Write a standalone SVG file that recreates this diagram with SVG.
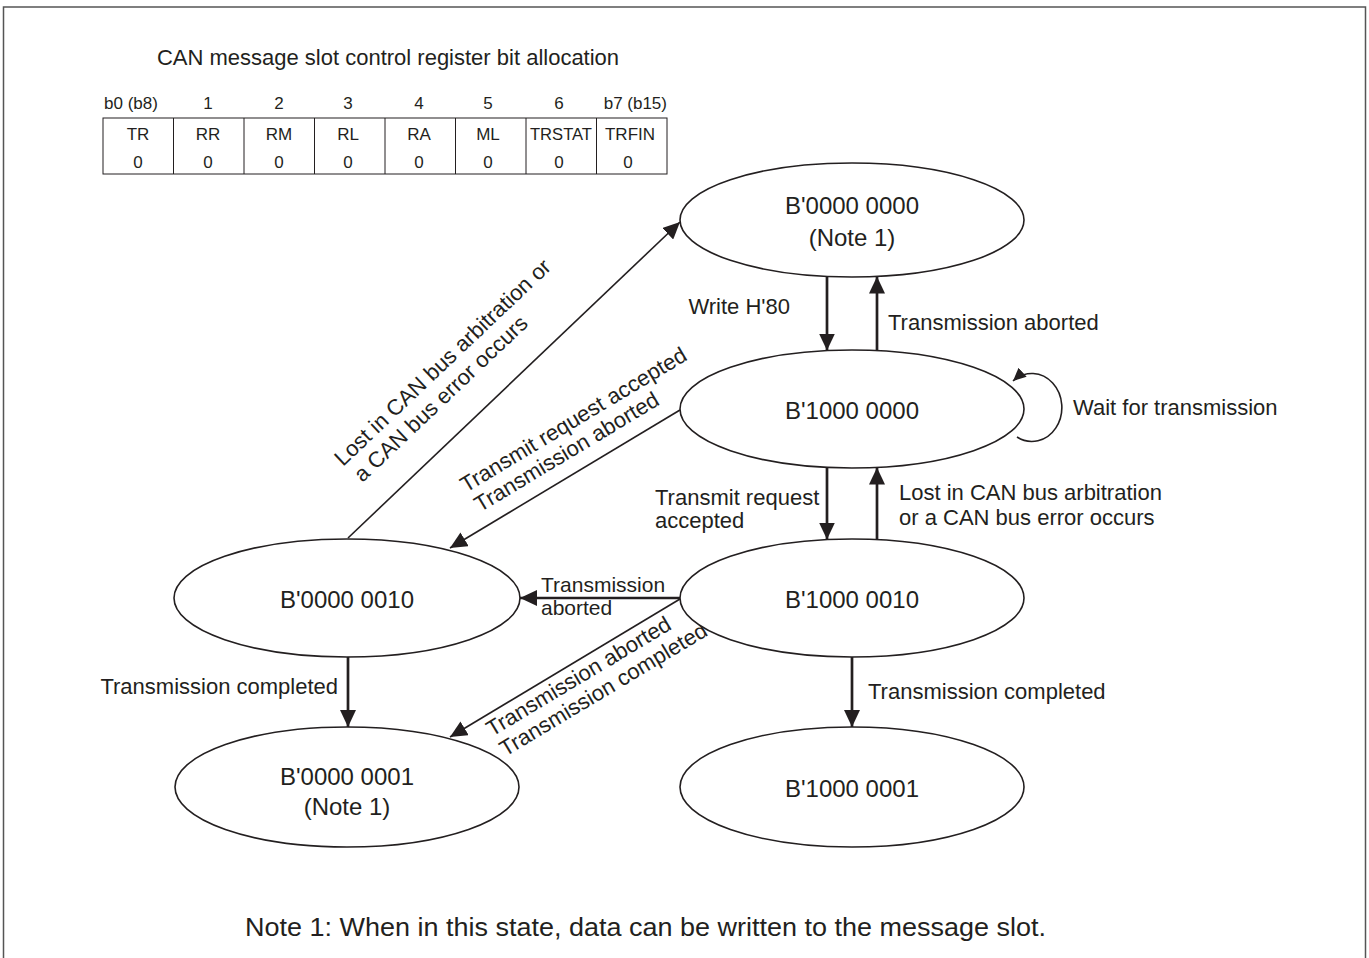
<svg xmlns="http://www.w3.org/2000/svg" width="1369" height="958" viewBox="0 0 1369 958">
<style>
text{font-family:"Liberation Sans",Arial,sans-serif;fill:#231f20}
.st{font-size:24px;text-anchor:middle}
.lb{font-size:22px}
.tb{font-size:17px;text-anchor:middle}
.node ellipse{fill:#fff;stroke:#231f20;stroke-width:1.6}
.thick{stroke:#231f20;stroke-width:2.7;fill:none}
.thin{stroke:#231f20;stroke-width:1.6;fill:none}
</style>
<defs>
<marker id="ah" markerUnits="userSpaceOnUse" markerWidth="18" markerHeight="16" refX="17" refY="8" orient="auto">
<path d="M0,0 L17,8 L0,16 z" fill="#231f20"/>
</marker>
<marker id="ahs" markerUnits="userSpaceOnUse" markerWidth="14" markerHeight="12" refX="13" refY="6" orient="auto">
<path d="M0,0 L13,6 L0,12 z" fill="#231f20"/>
</marker>
</defs>
<rect width="1369" height="958" fill="#fff"/>
<path d="M3.5,970 V7 H1365.5 V970" fill="none" stroke="#555" stroke-width="1.5"/>

<g id="register-table">
<text x="388" y="65" style="font-size:22px;text-anchor:middle">CAN message slot control register bit allocation</text>
<text x="104" y="109" style="font-size:17px">b0 (b8)</text>
<text class="tb" x="208" y="109">1</text>
<text class="tb" x="279" y="109">2</text>
<text class="tb" x="348" y="109">3</text>
<text class="tb" x="419" y="109">4</text>
<text class="tb" x="488" y="109">5</text>
<text class="tb" x="559" y="109">6</text>
<text x="667" y="109" style="font-size:17px;text-anchor:end">b7 (b15)</text>
<rect x="103" y="118" width="564" height="56" fill="none" stroke="#231f20" stroke-width="1"/>
<path d="M173.5,118 V174 M244,118 V174 M314.5,118 V174 M385,118 V174 M455.5,118 V174 M526,118 V174 M596.5,118 V174" stroke="#231f20" stroke-width="1"/>
<text class="tb" x="138" y="140">TR</text>
<text class="tb" x="208" y="140">RR</text>
<text class="tb" x="279" y="140">RM</text>
<text class="tb" x="348" y="140">RL</text>
<text class="tb" x="419" y="140">RA</text>
<text class="tb" x="488" y="140">ML</text>
<text class="tb" x="561" y="140" textLength="62" lengthAdjust="spacingAndGlyphs">TRSTAT</text>
<text class="tb" x="630" y="140">TRFIN</text>
<text class="tb" x="138" y="168">0</text>
<text class="tb" x="208" y="168">0</text>
<text class="tb" x="279" y="168">0</text>
<text class="tb" x="348" y="168">0</text>
<text class="tb" x="419" y="168">0</text>
<text class="tb" x="488" y="168">0</text>
<text class="tb" x="559" y="168">0</text>
<text class="tb" x="628" y="168">0</text>
</g>

<g id="connectors">
<line class="thick" x1="827" y1="276.5" x2="827" y2="350.5" marker-end="url(#ah)"/>
<line class="thick" x1="877" y1="350.5" x2="877" y2="276.5" marker-end="url(#ah)"/>
<line class="thick" x1="827" y1="467.5" x2="827" y2="539.5" marker-end="url(#ah)"/>
<line class="thick" x1="877" y1="539.5" x2="877" y2="467.5" marker-end="url(#ah)"/>
<line class="thick" x1="852" y1="657" x2="852" y2="727" marker-end="url(#ah)"/>
<line class="thick" x1="348" y1="657" x2="348" y2="727" marker-end="url(#ah)"/>
<line class="thick" x1="680" y1="598" x2="520" y2="598" marker-end="url(#ah)"/>
<line class="thin" x1="348" y1="538" x2="680" y2="222" marker-end="url(#ah)"/>
<line class="thin" x1="680" y1="410" x2="450" y2="548" marker-end="url(#ah)"/>
<line class="thin" x1="680" y1="599" x2="450" y2="737" marker-end="url(#ah)"/>
<path class="thin" d="M1017,437 A30,34 0 1 0 1013,381" marker-end="url(#ahs)"/>
</g>

<g id="labels">
<text class="lb" x="790" y="314" text-anchor="end">Write H'80</text>
<text class="lb" x="888" y="330">Transmission aborted</text>
<text class="lb" x="1073" y="415">Wait for transmission</text>
<text class="lb" x="655" y="505">Transmit request</text>
<text class="lb" x="655" y="528">accepted</text>
<text class="lb" x="899" y="500">Lost in CAN bus arbitration</text>
<text class="lb" x="899" y="525">or a CAN bus error occurs</text>
<text x="541" y="592" style="font-size:21px">Transmission</text>
<text x="541" y="615" style="font-size:21px">aborted</text>
<text class="lb" x="338" y="694" text-anchor="end">Transmission completed</text>
<text class="lb" x="868" y="699">Transmission completed</text>
<g transform="translate(343,467) rotate(-43.5)">
<text class="lb" x="0" y="0">Lost in CAN bus arbitration or</text>
<text class="lb" x="3" y="25">a CAN bus error occurs</text>
</g>
<g transform="translate(466,493) rotate(-31)">
<text class="lb" x="0" y="0">Transmit request accepted</text>
<text class="lb" x="2" y="24">Transmission aborted</text>
</g>
<g transform="translate(492,737) rotate(-31)">
<text class="lb" x="0" y="0">Transmission aborted</text>
<text class="lb" x="1" y="24">Transmission completed</text>
</g>
<text x="245" y="936" style="font-size:25px" textLength="801" lengthAdjust="spacingAndGlyphs">Note 1: When in this state, data can be written to the message slot.</text>
</g>

<g id="s-00000000" class="node">
<ellipse cx="852" cy="220" rx="172" ry="57"/>
<text class="st" x="852" y="214">B'0000 0000</text>
<text class="st" x="852" y="246">(Note 1)</text>
</g>
<g id="s-10000000" class="node">
<ellipse cx="852" cy="409" rx="172" ry="59"/>
<text class="st" x="852" y="419">B'1000 0000</text>
</g>
<g id="s-10000010" class="node">
<ellipse cx="852" cy="598" rx="172" ry="59"/>
<text class="st" x="852" y="608">B'1000 0010</text>
</g>
<g id="s-00000010" class="node">
<ellipse cx="347" cy="598" rx="173" ry="59"/>
<text class="st" x="347" y="608">B'0000 0010</text>
</g>
<g id="s-00000001" class="node">
<ellipse cx="347" cy="787" rx="172" ry="60"/>
<text class="st" x="347" y="785">B'0000 0001</text>
<text class="st" x="347" y="815">(Note 1)</text>
</g>
<g id="s-10000001" class="node">
<ellipse cx="852" cy="787" rx="172" ry="60"/>
<text class="st" x="852" y="797">B'1000 0001</text>
</g>
</svg>
